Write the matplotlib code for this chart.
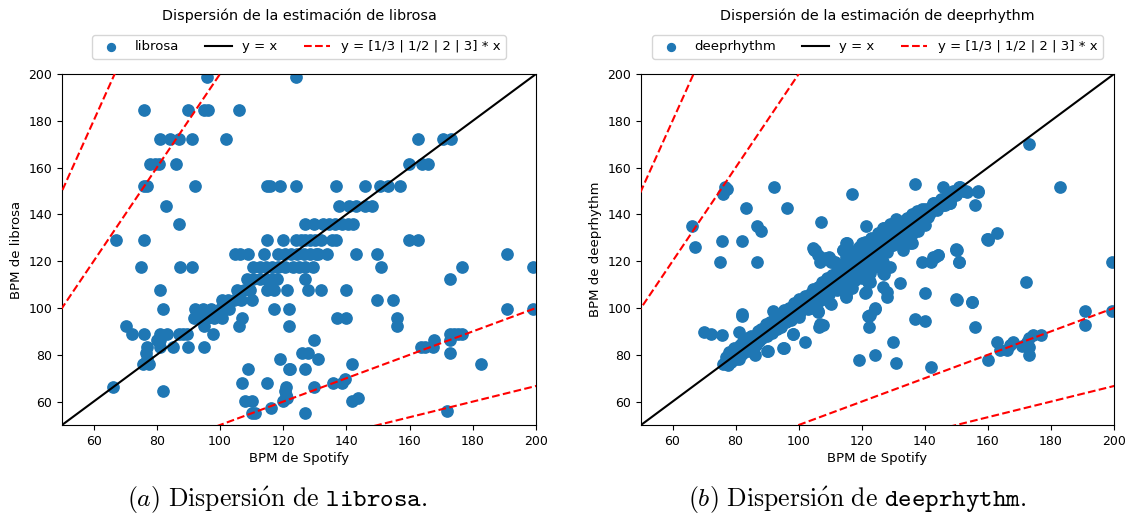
import numpy as np
import matplotlib
matplotlib.use('Agg')
import matplotlib.pyplot as plt

plt.rcParams['font.size'] = 9.5
plt.rcParams['xtick.labelsize'] = 9
plt.rcParams['ytick.labelsize'] = 9
plt.rcParams['mathtext.fontset'] = 'cm'

# librosa: estimaciones (BPM Spotify, BPM librosa), por filas de tempo
lib_spotify = [
    96, 124,
    76, 90, 94.9, 96.1, 106,
    81, 84.1, 87, 91, 102, 162.8, 170.7, 173,
    77.8, 79.5, 80.7, 86.1, 159.8, 163.8, 165.8,
    76, 77, 92, 115, 115.8, 119, 124, 136.8, 145.9, 150.6, 153.3, 156.9,
    83, 137.8, 140.7, 143, 145.9, 148,
    87, 126.9, 129.8, 132.7, 134.5, 136.5, 138.5, 140.5, 142.2,
    67.1, 76, 115, 119.9, 124, 125.5, 127, 128.5, 130, 132, 135.3, 136.8, 159.8, 162.8,
    104.7, 106.3, 109, 114, 118.4, 120.5, 122.5, 124.5, 126.5, 128.5, 130.5, 131.1, 133.8, 142.9, 149.8, 190.7,
    75, 87.3, 91, 110.5, 112.5, 114.5, 116.5, 118.5, 120.5, 123, 125, 126.9, 129.5, 150.8, 176.6, 199.1,
    108.4, 110.5, 112.5, 114.5, 116.5, 118, 126.9, 172.8,
    81, 105.3, 107.5, 109.5, 115, 117.2, 121.1, 128, 132, 139.8,
    100.5, 102.5, 104.5, 106.5, 110, 149.8, 154.8,
    82.1, 92, 94.5, 97, 100, 103, 117.1, 121.9, 190.7, 199.1,
    91.9, 94, 96, 98, 100.5, 106.9, 136.9, 139.8, 155.9,
    70.2, 95, 106.1, 121.9, 155.9,
    72.2, 76, 81, 83.1, 87, 88.4, 89.4, 97.9, 172.8, 174, 175.3, 176.6,
    80, 81, 129.7, 167.7, 172.8,
    77, 81, 85.2, 90, 95, 163.5, 165, 167.5,
    76.5, 125.8, 128, 172.8,
    77, 119, 130.9,
    75.5, 77.5, 141.9, 182.7,
    109, 121.9, 122, 126.9,
    139.6,
    106.9, 115, 135.7, 138.5,
    66, 120.9, 129.7,
    82.1, 120.5,
    121,
    121.1, 143.8,
    107.9, 110, 119.8, 141.9,
    116,
    171.7,
    110, 111, 126.9,
]
lib_bpm = (
    [198.77] * 2 + [184.57] * 5 + [172.27] * 8 + [161.5] * 7 + [152.0] * 12
    + [143.55] * 6 + [136.0] * 9 + [129.2] * 14 + [123.05] * 16 + [117.45] * 16
    + [112.35] * 8 + [107.67] * 10 + [103.36] * 7 + [99.38] * 10 + [95.7] * 9
    + [92.29] * 5 + [89.1] * 12 + [86.13] * 5 + [83.35] * 8 + [80.75] * 4
    + [78.3] * 3 + [75.99] * 4 + [73.83] * 4 + [69.84] * 1 + [67.99] * 4
    + [66.26] * 3 + [64.6] * 2 + [63.02] * 1 + [61.52] * 2 + [60.09] * 4
    + [57.42] * 1 + [56.17] * 1 + [54.98] * 3
)

# deeprhythm: nube densa alrededor de la diagonal
dr_band_x = [
    76, 77, 77.5, 78, 78.5, 79, 79.5, 80, 80.5, 81,
    81.5, 82, 82.5, 83, 83.5, 84, 84.5, 85, 85.5, 86,
    86.5, 87, 87.5, 88, 88.5, 89, 89.5, 90, 90.5, 91,
    91.5, 92, 92.5, 93, 93.5, 94, 94.5, 95, 95.5, 96,
    96.5, 97, 97.5, 98, 98.5, 99, 99.5, 100, 100.5, 101,
    101.5, 102, 102.5, 103, 103.5, 104, 104.5, 105, 105.5, 106,
    106.5, 107, 107.5, 108, 108.5, 109, 109.5, 110, 110.5, 111,
    111.5, 112, 112.5, 113, 113.5, 114, 114.5, 115, 115.5, 116,
    116.5, 117, 117.5, 118, 118.5, 119, 119.5, 120, 120.5, 121,
    121.5, 122, 122.5, 123, 123.5, 124, 124.5, 125, 125.5, 126,
    126.5, 127, 127.5, 128, 128.5, 129, 129.5, 130, 130.5, 131,
    131.5, 132, 132.5, 133, 133.5, 134, 134.5, 135, 135.5, 136,
    136.5, 137, 137.5, 138, 138.5, 139, 139.5, 140, 141, 142,
    143, 144, 145, 146, 147, 148, 149, 150, 151, 152,
    100, 104, 108, 112, 116, 118, 120, 122, 124, 126,
    112, 115, 117, 119, 121, 123, 125, 127, 129, 131,
    128, 130, 132, 134, 136, 138, 140, 113, 118, 124,
]
dr_band_y = [
    76, 79, 75.5, 81, 77, 80, 83, 78, 82, 79.5,
    84, 80.5, 86, 82, 87, 81.5, 85, 88, 83, 86.5,
    84, 90, 86, 91, 87, 89, 93, 88, 91.5, 94,
    89.5, 92, 96, 91, 94.5, 97, 92, 96, 99, 94,
    97.5, 100, 95, 99, 102, 97, 101, 104, 98.5, 102.5,
    100, 105, 102, 99.5, 106, 103, 108, 101, 105, 109,
    103, 107, 111, 105, 109.5, 113, 106, 110, 114, 108,
    112, 116, 109, 114, 118, 111, 116.5, 120, 113, 117,
    121, 114.5, 119, 123, 116, 120.5, 124, 117, 122, 126,
    119, 124, 127.5, 120.5, 125, 129, 122, 126.5, 130, 123.5,
    128, 131.5, 125, 129.5, 133, 126.5, 131, 134.5, 128, 132,
    136, 129.5, 133.5, 137, 131, 135, 138.5, 132.5, 136.5, 140,
    134, 138, 141.5, 136, 139.5, 142.5, 137, 141, 139, 143,
    145, 142, 146.5, 144.5, 148, 146, 150, 148.5, 151.5, 150,
    96, 100, 104, 107.5, 111, 114, 113, 118, 117.5, 121,
    118, 122, 124.5, 126, 128, 130, 132, 134, 136, 138,
    124, 127, 128, 130, 131.5, 133, 135.5, 110.5, 112, 119,
]

# deeprhythm: puntos fuera de la nube
dr_out_x = [76.6, 77.4, 76.1, 92.2, 117, 83.2, 96.2, 66.1, 86.9, 88.2, 107.1, 121.2, 67.2, 75.8,
            82, 105, 114.9, 114.2, 120, 123.7, 75.1, 86.9, 70.1, 72.2, 75.8, 81.2, 82, 82, 92,
            95.2, 90.2, 86.2, 81.1, 98.1, 102, 106, 106.6, 107.6, 110.1, 115, 115, 117, 121.2,
            122.2, 119.1, 124.2, 124.2, 122.2, 122.2, 104.6, 106.2, 109.6, 110.1, 106.9, 111.6,
            115.3, 136.9, 145.8, 151.1, 153, 156.9, 155.9, 159.6, 150.1, 150.9, 139, 142.1,
            142.7, 144.2, 132.1, 140, 150.1, 155, 155.9, 136.9, 140, 122.1, 124.2, 130, 131,
            141.9, 160.1, 127, 127.9, 127.9, 121, 115, 109.9, 106.2, 106.7, 95.1, 90, 98.3,
            105.1, 108.3, 110.4, 114.1, 126.8, 130, 134.2, 137.9, 140, 142.7, 145.8, 148,
            135.8, 133.1, 128.9, 126.8, 122.1, 135.3, 143.2, 144.3, 149.9, 151, 159.9, 199.4,
            172, 149.9, 155.1, 190.8, 190.8, 199.4, 162.8, 163.8, 166, 167, 168.1, 170.9,
            172.3, 173.1, 174.2, 177, 173.1, 173.1, 126.8, 126.8, 122.6, 122.6, 122.6, 173.1,
            182.9, 153.3, 157, 148, 146.4, 141.6, 136.9, 160.1, 162.8, 149.9, 131.1, 134.2]
dr_out_y = [151.8, 150.9, 148.7, 151.8, 148.7, 142.9, 142.9, 134.9, 134.9, 132.8, 136.9, 134.9,
            125.9, 128.8, 128.8, 124.8, 127.6, 124.8, 127.6, 127.6, 119.7, 119.7, 89.9, 88.8,
            88.5, 89.9, 97.4, 96.6, 98.7, 82.8, 81.8, 80, 78.1, 88.8, 85.6, 98.7, 91.7, 92.7,
            101.7, 106.3, 104.8, 108.7, 106.7, 112, 77.8, 80, 99.6, 96.6, 91.7, 125.5, 122.6,
            121.9, 120.5, 119.7, 119.7, 127.6, 152.9, 151.8, 151.8, 150, 150, 144, 129.7,
            124.7, 119.7, 119.7, 119.7, 121.9, 122.6, 110.8, 106.5, 103.6, 102.6, 91.7, 95.5,
            94.5, 96.5, 99.8, 85.5, 76.6, 74.9, 77.7, 114.7, 106.9, 104.8, 106.5, 105.1, 102,
            98.4, 93.1, 82.7, 81.5, 89.1, 124.7, 121.2, 119.7, 124.7, 134, 132.6, 136.8,
            141.1, 142.5, 144.7, 144, 145, 127.6, 124.7, 117.6, 119.7, 111.2, 127.7, 122,
            122.7, 124.8, 119.7, 129.1, 119.7, 110.9, 103.7, 102.7, 98.8, 92.8, 98.8, 85.6,
            82.1, 82.1, 84.2, 85.6, 83.8, 85.6, 87.1, 88.5, 88.5, 80, 83.5, 114.9, 109.1,
            114.9, 111.3, 97, 169.9, 151.8, 149.7, 149.7, 144.7, 144, 140.4, 136.2, 129.7,
            131.9, 125.2, 129, 128.3]

dr_spotify = dr_band_x + dr_out_x
dr_bpm = dr_band_y + dr_out_y

fig = plt.figure(figsize=(11.29, 5.24), dpi=100)
ax1 = fig.add_axes([62 / 1129, 1 - 425 / 524, 474 / 1129, 351 / 524])
ax2 = fig.add_axes([641 / 1129, 1 - 425 / 524, 473 / 1129, 351 / 524])

line = np.array([0, 250])
for ax, xs, ys, name in [(ax1, lib_spotify, lib_bpm, 'librosa'),
                         (ax2, dr_spotify, dr_bpm, 'deeprhythm')]:
    ax.scatter(xs, ys, s=66, color='#1f77b4', label=name, zorder=2)
    ax.plot(line, line, color='black', lw=1.5, label='y = x', zorder=3)
    for i, k in enumerate([1 / 3, 1 / 2, 2, 3]):
        ax.plot(line, k * line, 'r--', lw=1.5,
                label='y = [1/3 | 1/2 | 2 | 3] * x' if i == 0 else None, zorder=3)
    ax.set_xlim(50, 200)
    ax.set_ylim(50, 200)
    ax.set_xticks([60, 80, 100, 120, 140, 160, 180, 200])
    ax.set_yticks([60, 80, 100, 120, 140, 160, 180, 200])
    ax.set_xlabel('BPM de Spotify', labelpad=3)
    ax.set_ylabel('BPM de ' + name)
    ax.set_title('Dispersión de la estimación de ' + name, fontsize=10.4, pad=39)
    ax.legend(loc='lower center', bbox_to_anchor=(0.5, 1.025), ncol=3,
              fontsize=9.5, handlelength=2, columnspacing=2, markerscale=0.7)

fig.text(0.245, 0.046, r'$\mathit{(a)}\ \mathrm{Dispersi\acute{o}n\ de\ }\mathtt{librosa}\mathrm{.}$',
         ha='center', va='center', fontsize=18.5)
fig.text(0.759, 0.046, r'$\mathit{(b)}\ \mathrm{Dispersi\acute{o}n\ de\ }\mathtt{deeprhythm}\mathrm{.}$',
         ha='center', va='center', fontsize=18.5)

plt.savefig('out.png', dpi=100)
